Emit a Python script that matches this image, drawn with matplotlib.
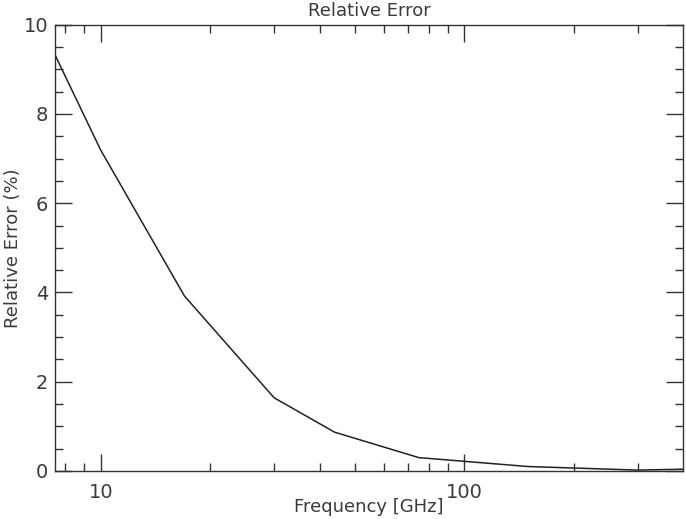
import numpy as np
import matplotlib.pyplot as plt
from matplotlib.ticker import FixedLocator, NullFormatter, FixedFormatter

freq = [7.5, 10, 17, 30, 44, 75, 150, 300, 400]   # GHz
err = [9.31, 7.19, 3.92, 1.64, 0.87, 0.30, 0.10, 0.02, 0.04]  # percent

x_major = [10, 100]
x_major_labels = ['10', '100']
x_minor = [8, 9, 20, 30, 40, 50, 60, 70, 80, 90, 200, 300]

fig = plt.figure(figsize=(6.86, 5.19), dpi=100)
ax = fig.add_axes([0.0806, 0.0925, 0.915, 0.86])

ax.plot(freq, err, color='#222222', lw=1.1)
ax.set_xscale('log')
ax.set_xlim(7.5, 400)
ax.set_ylim(0, 10)

ax.xaxis.set_major_locator(FixedLocator(x_major))
ax.xaxis.set_major_formatter(FixedFormatter(x_major_labels))
ax.xaxis.set_minor_locator(FixedLocator(x_minor))
ax.xaxis.set_minor_formatter(NullFormatter())
ax.set_yticks([0, 2, 4, 6, 8, 10])
ax.set_yticks(np.arange(0, 10.01, 0.5), minor=True)

txt = '#3a3a3a'
ax.tick_params(which='both', direction='in', top=True, right=True,
               color='#333333', width=1.0, labelsize=14, labelcolor=txt)
ax.tick_params(which='major', length=12)
ax.tick_params(which='minor', length=6)
ax.tick_params(axis='x', pad=9)
ax.tick_params(axis='y', pad=5)
for s in ax.spines.values():
    s.set_color('#333333')
    s.set_linewidth(1.0)

ax.set_title('Relative Error', fontsize=13, color=txt, pad=6)
ax.set_xlabel('Frequency [GHz]', fontsize=13, color=txt)
ax.set_ylabel('Relative Error (%)', fontsize=13, color=txt)
ax.xaxis.set_label_coords(0.5, -0.081)
ax.xaxis.label.set_va('center')
ax.yaxis.set_label_coords(-0.068, 0.5)
ax.yaxis.label.set_va('center')

fig.savefig('out.png', dpi=100)
